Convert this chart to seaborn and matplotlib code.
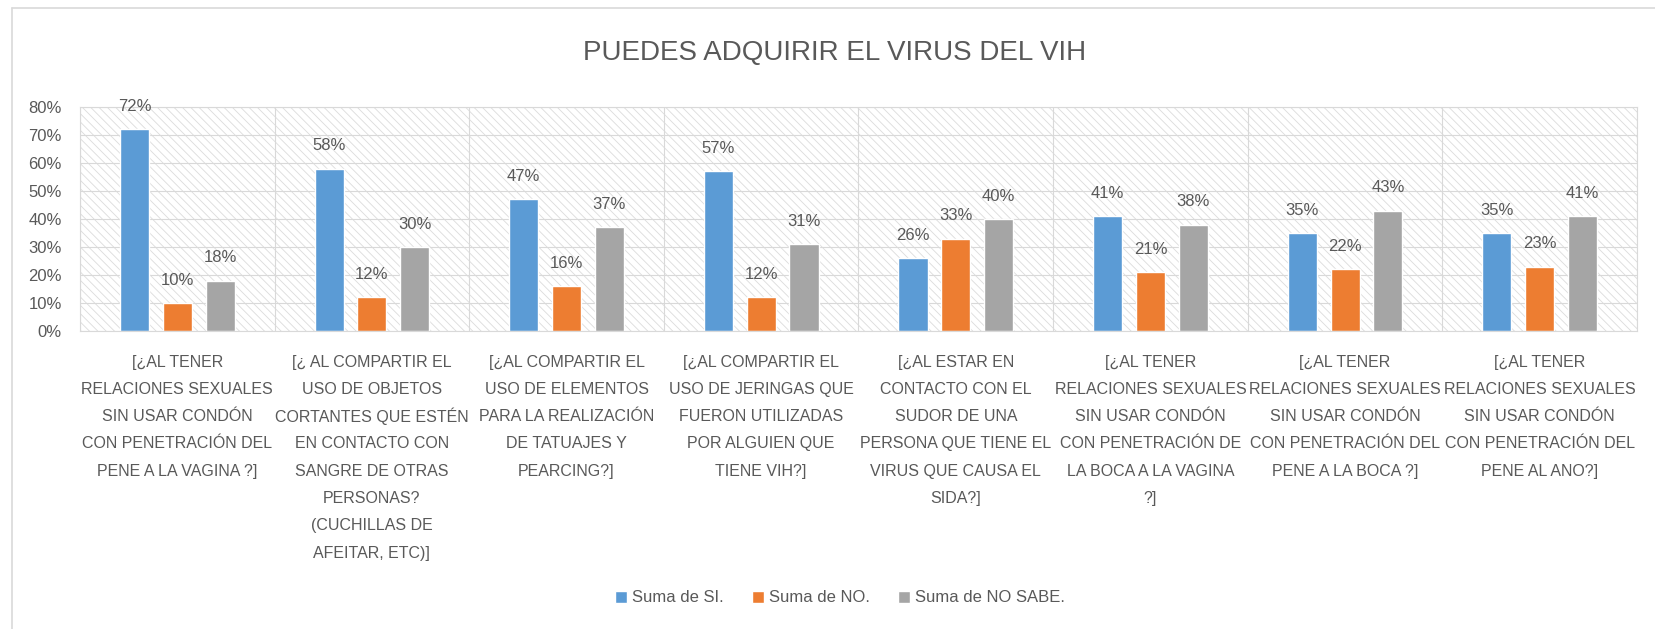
import matplotlib
matplotlib.use("Agg")
import matplotlib.pyplot as plt
import matplotlib.ticker as mticker
from matplotlib.patches import Rectangle
from matplotlib.lines import Line2D
import seaborn as sns
import pandas as pd

categories = [
    "[¿AL TENER\nRELACIONES SEXUALES\nSIN USAR CONDÓN\nCON PENETRACIÓN DEL\nPENE A LA VAGINA ?]",
    "[¿ AL COMPARTIR EL\nUSO DE OBJETOS\nCORTANTES QUE ESTÉN\nEN CONTACTO CON\nSANGRE DE OTRAS\nPERSONAS?\n(CUCHILLAS DE\nAFEITAR, ETC)]",
    "[¿AL COMPARTIR EL\nUSO DE ELEMENTOS\nPARA LA REALIZACIÓN\nDE TATUAJES Y\nPEARCING?]",
    "[¿AL COMPARTIR EL\nUSO DE JERINGAS QUE\nFUERON UTILIZADAS\nPOR ALGUIEN QUE\nTIENE VIH?]",
    "[¿AL ESTAR EN\nCONTACTO CON EL\nSUDOR DE UNA\nPERSONA QUE TIENE EL\nVIRUS QUE CAUSA EL\nSIDA?]",
    "[¿AL TENER\nRELACIONES SEXUALES\nSIN USAR CONDÓN\nCON PENETRACIÓN DE\nLA BOCA A LA VAGINA\n?]",
    "[¿AL TENER\nRELACIONES SEXUALES\nSIN USAR CONDÓN\nCON PENETRACIÓN DEL\nPENE A LA BOCA ?]",
    "[¿AL TENER\nRELACIONES SEXUALES\nSIN USAR CONDÓN\nCON PENETRACIÓN DEL\nPENE AL ANO?]",
]
series_names = ["Suma de SI.", "Suma de NO.", "Suma de NO SABE."]
si_values = [72, 58, 47, 57, 26, 41, 35, 35]
no_values = [10, 12, 16, 12, 33, 21, 22, 23]
nosabe_values = [18, 30, 37, 31, 40, 38, 43, 41]
yticks = [0, 10, 20, 30, 40, 50, 60, 70, 80]
title = "PUEDES ADQUIRIR EL VIRUS DEL VIH"

colors = ["#5B9BD5", "#ED7D31", "#A5A5A5"]
text_color = "#595959"
grid_color = "#D9D9D9"

rows = []
for name, vals in zip(series_names, [si_values, no_values, nosabe_values]):
    for cat, v in zip(categories, vals):
        rows.append({"cat": cat, "serie": name, "val": v})
df = pd.DataFrame(rows)

sns.set_style("white")
plt.rcParams["font.family"] = ["Liberation Sans", "DejaVu Sans"]
plt.rcParams["hatch.color"] = "#DCDCDC"
plt.rcParams["hatch.linewidth"] = 0.6

W, H = 1656, 629
fig = plt.figure(figsize=(W / 100, H / 100), dpi=100)
fig.patch.set_facecolor("white")
ax_left, ax_right, ax_top, ax_bottom = 80, 1637, 107, 331
ax_h = ax_bottom - ax_top
ax = fig.add_axes([ax_left / W, 1 - ax_bottom / H, (ax_right - ax_left) / W, ax_h / H])

bg = Rectangle((0, 0), 1, 1, transform=ax.transAxes, facecolor="white",
               edgecolor="#DCDCDC", linewidth=0, hatch="\\\\\\\\", zorder=0.2)
ax.add_patch(bg)

sns.barplot(data=df, x="cat", y="val", hue="serie", order=categories,
            hue_order=series_names, palette=colors, width=0.66, gap=0.32,
            saturation=1, ax=ax, zorder=2)

for cont in ax.containers:
    ax.bar_label(cont, labels=[f"{v:.0f}%" for v in cont.datavalues],
                 padding=11, fontsize=12, color=text_color)

handles = ax.get_legend().legend_handles
ax.get_legend().remove()

ax.set_ylim(0, 80)
ax.set_xlim(-0.5, len(categories) - 0.5)
ax.set_yticks(yticks)
ax.yaxis.set_major_formatter(mticker.FuncFormatter(lambda v, p: f"{v:.0f}%"))
ax.set_xticks(range(len(categories)))
ax.set_xticklabels([""] * len(categories))
ax.set_xticks([i - 0.5 for i in range(len(categories) + 1)], minor=True)
ax.set_axisbelow(True)
ax.grid(True, axis="y", which="major", color=grid_color, linewidth=0.8, zorder=0.5)
ax.grid(True, axis="x", which="minor", color=grid_color, linewidth=0.8, zorder=0.5)
ax.grid(False, axis="x", which="major")
ax.tick_params(axis="y", length=0, pad=13, labelsize=12, labelcolor=text_color)
ax.tick_params(axis="x", which="both", length=0)
ax.set_xlabel("")
ax.set_ylabel("")
for s in ax.spines.values():
    s.set_color(grid_color)
    s.set_linewidth(0.8)

# category labels, one text per line for even line spacing
first_line_px, line_step_px = 362, 27.3
xt = ax.get_xaxis_transform()
for i, cat in enumerate(categories):
    for j, line in enumerate(cat.split("\n")):
        ypx = first_line_px + j * line_step_px
        ax.text(i, (ax_bottom - ypx) / ax_h, line, transform=xt, ha="center",
                va="center", fontsize=11.5, color=text_color, clip_on=False)

fig.text(835 / W, 1 - 53 / H, title, ha="center", va="center", fontsize=20,
         color=text_color)

fig.legend(handles, series_names, loc="center", bbox_to_anchor=(840 / W, 1 - 598 / H),
           ncol=3, frameon=False, fontsize=12, labelcolor=text_color,
           handlelength=0.7, handleheight=0.7, handletextpad=0.3, columnspacing=1.7)

fig.add_artist(Line2D([12 / W, 12 / W], [0, 1 - 8 / H], color=grid_color, linewidth=1.2))
fig.add_artist(Line2D([12 / W, 1], [1 - 8 / H, 1 - 8 / H], color=grid_color, linewidth=1.2))

fig.savefig("out.png", dpi=100)
